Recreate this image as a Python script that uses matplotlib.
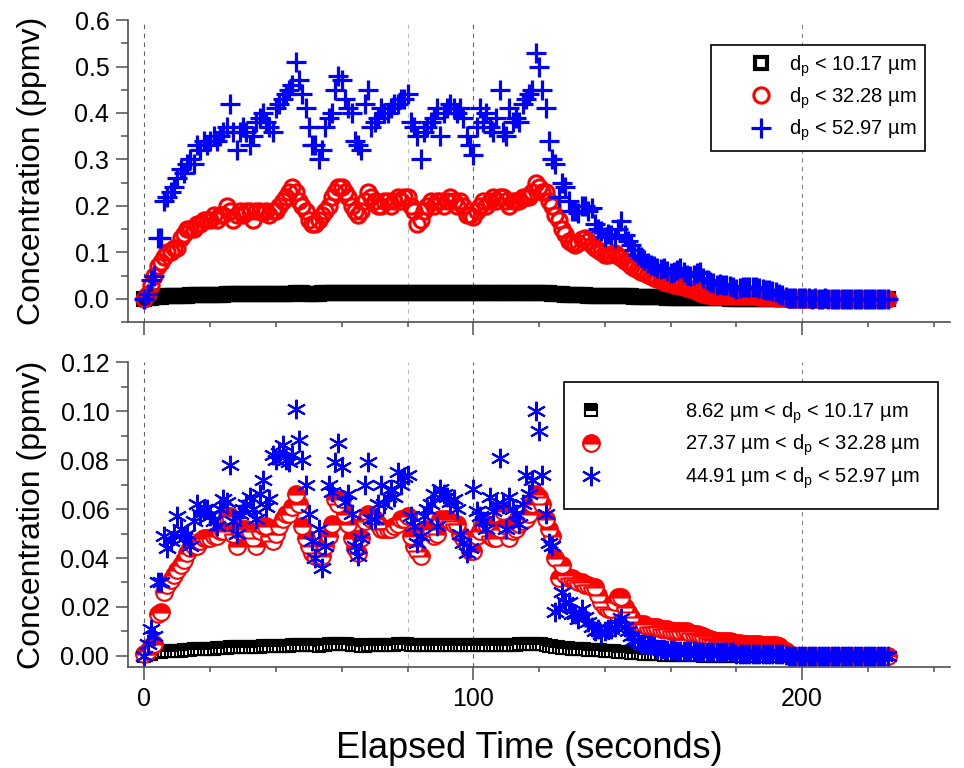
import numpy as np
import matplotlib.pyplot as plt
from matplotlib.ticker import MultipleLocator

plt.rcParams['font.family'] = ['Liberation Sans', 'DejaVu Sans']
plt.rcParams['mathtext.fontset'] = 'custom'
plt.rcParams['mathtext.rm'] = 'Liberation Sans'

# elapsed time, one sample per second
time_s = np.arange(0, 227)

# top panel: cumulative concentration (ppmv)
top_lt10 = [
    0.000, 0.001, 0.002, 0.003, 0.004, 0.004, 0.005, 0.005, 0.006, 0.006,
    0.006, 0.007, 0.007, 0.007, 0.008, 0.008, 0.008, 0.008, 0.008, 0.008,
    0.008, 0.009, 0.009, 0.009, 0.009, 0.010, 0.010, 0.010, 0.010, 0.010,
    0.010, 0.010, 0.010, 0.011, 0.011, 0.011, 0.011, 0.011, 0.011, 0.011,
    0.011, 0.011, 0.011, 0.011, 0.011, 0.011, 0.012, 0.012, 0.012, 0.011,
    0.011, 0.011, 0.011, 0.011, 0.012, 0.012, 0.012, 0.013, 0.013, 0.013,
    0.013, 0.013, 0.013, 0.013, 0.012, 0.012, 0.012, 0.012, 0.012, 0.012,
    0.012, 0.012, 0.012, 0.012, 0.012, 0.012, 0.012, 0.012, 0.013, 0.013,
    0.013, 0.012, 0.012, 0.012, 0.012, 0.012, 0.012, 0.012, 0.012, 0.012,
    0.012, 0.012, 0.012, 0.012, 0.012, 0.012, 0.012, 0.012, 0.012, 0.012,
    0.012, 0.012, 0.012, 0.012, 0.012, 0.012, 0.012, 0.012, 0.012, 0.012,
    0.012, 0.012, 0.012, 0.012, 0.013, 0.013, 0.013, 0.013, 0.013, 0.013,
    0.013, 0.013, 0.012, 0.012, 0.011, 0.010, 0.010, 0.010, 0.009, 0.009,
    0.009, 0.008, 0.008, 0.008, 0.008, 0.007, 0.007, 0.007, 0.007, 0.006,
    0.006, 0.006, 0.006, 0.006, 0.005, 0.005, 0.005, 0.005, 0.005, 0.004,
    0.004, 0.004, 0.004, 0.004, 0.003, 0.003, 0.003, 0.003, 0.003, 0.002,
    0.002, 0.002, 0.002, 0.002, 0.002, 0.002, 0.001, 0.001, 0.001, 0.001,
    0.001, 0.001, 0.001, 0.001, 0.001, 0.001, 0.001, 0.001, 0.000, 0.000,
    0.000, 0.000, 0.000, 0.000, 0.000, 0.000, 0.000, 0.000, 0.000, 0.000,
    0.000, 0.000, 0.000, 0.000, 0.000, 0.000, 0.000, 0.000, 0.000, 0.000,
    0.000, 0.000, 0.000, 0.000, 0.000, 0.000, 0.000, 0.000, 0.000, 0.000,
    0.000, 0.000, 0.000, 0.000, 0.000, 0.000, 0.000, 0.000, 0.000, 0.000,
    0.000, 0.000, 0.000, 0.000, 0.000, 0.000, 0.000,
]
top_lt32 = [
    0.00, 0.01, 0.03, 0.05, 0.07, 0.08, 0.09, 0.10, 0.10, 0.11,
    0.11, 0.13, 0.14, 0.15, 0.15, 0.15, 0.16, 0.16, 0.17, 0.17,
    0.17, 0.18, 0.17, 0.18, 0.18, 0.20, 0.19, 0.17, 0.18, 0.19,
    0.18, 0.19, 0.19, 0.17, 0.19, 0.19, 0.185, 0.19, 0.18, 0.19,
    0.19, 0.20, 0.21, 0.22, 0.23, 0.24, 0.23, 0.21, 0.20, 0.19,
    0.17, 0.16, 0.16, 0.17, 0.18, 0.19, 0.20, 0.22, 0.23, 0.24,
    0.24, 0.23, 0.22, 0.20, 0.19, 0.18, 0.19, 0.21, 0.23, 0.22,
    0.21, 0.20, 0.20, 0.21, 0.21, 0.20, 0.21, 0.22, 0.21, 0.22,
    0.22, 0.20, 0.19, 0.16, 0.17, 0.19, 0.20, 0.21, 0.20, 0.21,
    0.21, 0.20, 0.21, 0.22, 0.21, 0.20, 0.21, 0.20, 0.18, 0.18,
    0.175, 0.19, 0.20, 0.21, 0.20, 0.21, 0.22, 0.21, 0.22, 0.22,
    0.21, 0.20, 0.21, 0.21, 0.21, 0.22, 0.22, 0.22, 0.23, 0.25,
    0.24, 0.23, 0.23, 0.21, 0.20, 0.18, 0.17, 0.15, 0.14, 0.125,
    0.12, 0.115, 0.12, 0.128, 0.13, 0.125, 0.116, 0.11, 0.106, 0.10,
    0.095, 0.095, 0.097, 0.099, 0.092, 0.087, 0.082, 0.076, 0.071, 0.066,
    0.062, 0.058, 0.055, 0.051, 0.048, 0.044, 0.042, 0.040, 0.037, 0.035,
    0.033, 0.030, 0.029, 0.028, 0.026, 0.024, 0.022, 0.019, 0.016, 0.013,
    0.010, 0.009, 0.008, 0.007, 0.006, 0.006, 0.006, 0.005, 0.005, 0.005,
    0.005, 0.005, 0.005, 0.005, 0.005, 0.005, 0.005, 0.004, 0.004, 0.003,
    0.003, 0.003, 0.002, 0.002, 0.001, 0.001, 0.000, 0.000, 0.000, 0.000,
    0.000, 0.000, 0.000, 0.000, 0.000, 0.000, 0.000, 0.000, 0.000, 0.000,
    0.000, 0.000, 0.000, 0.000, 0.000, 0.000, 0.000, 0.000, 0.000, 0.000,
    0.000, 0.000, 0.000, 0.000, 0.000, 0.000, 0.000,
]
top_lt53 = [
    0.00, 0.01, 0.04, 0.05, 0.13, 0.13, 0.21, 0.22, 0.23, 0.24,
    0.26, 0.28, 0.27, 0.29, 0.30, 0.29, 0.33, 0.32, 0.34, 0.33,
    0.34, 0.35, 0.34, 0.35, 0.36, 0.37, 0.42, 0.36, 0.32, 0.36,
    0.37, 0.36, 0.33, 0.35, 0.38, 0.39, 0.40, 0.38, 0.37, 0.36,
    0.41, 0.42, 0.43, 0.44, 0.45, 0.46, 0.51, 0.47, 0.44, 0.41,
    0.37, 0.33, 0.33, 0.30, 0.32, 0.37, 0.39, 0.40, 0.45, 0.48,
    0.47, 0.43, 0.41, 0.40, 0.34, 0.33, 0.32, 0.42, 0.45, 0.37,
    0.38, 0.39, 0.41, 0.40, 0.40, 0.41, 0.42, 0.42, 0.43, 0.43,
    0.44, 0.38, 0.37, 0.35, 0.30, 0.36, 0.37, 0.38, 0.39, 0.41,
    0.35, 0.40, 0.41, 0.42, 0.41, 0.40, 0.41, 0.39, 0.35, 0.33,
    0.31, 0.37, 0.41, 0.38, 0.40, 0.37, 0.36, 0.39, 0.45, 0.36,
    0.35, 0.41, 0.38, 0.39, 0.38, 0.42, 0.43, 0.44, 0.45, 0.53,
    0.50, 0.45, 0.41, 0.34, 0.30, 0.29, 0.22, 0.25, 0.24, 0.21,
    0.19, 0.19, 0.185, 0.20, 0.20, 0.19, 0.195, 0.16, 0.15, 0.145,
    0.134, 0.14, 0.137, 0.13, 0.15, 0.167, 0.137, 0.125, 0.116, 0.105,
    0.095, 0.09, 0.084, 0.078, 0.073, 0.07, 0.066, 0.065, 0.066, 0.06,
    0.055, 0.058, 0.062, 0.066, 0.058, 0.051, 0.05, 0.052, 0.055, 0.058,
    0.044, 0.04, 0.036, 0.033, 0.03, 0.032, 0.03, 0.03, 0.028, 0.025,
    0.022, 0.024, 0.026, 0.026, 0.025, 0.026, 0.026, 0.023, 0.021, 0.02,
    0.019, 0.017, 0.015, 0.011, 0.008, 0.004, 0.002, 0.002, 0.001, 0.001,
    0.001, 0.001, 0.001, 0.000, 0.001, 0.000, 0.000, 0.001, 0.000, 0.000,
    0.000, 0.000, 0.000, 0.000, 0.000, 0.000, 0.000, 0.000, 0.000, 0.000,
    0.000, 0.000, 0.000, 0.000, 0.000, 0.000, 0.000,
]

# bottom panel: size-bin concentration (ppmv)
bin_10 = [
    0.000, 0.001, 0.001, 0.0015, 0.0015, 0.0015, 0.002, 0.002, 0.002, 0.002,
    0.002, 0.0022, 0.0024, 0.0025, 0.0026, 0.0027, 0.0028, 0.003, 0.003, 0.003,
    0.003, 0.003, 0.0031, 0.0032, 0.0033, 0.0034, 0.0035, 0.0035, 0.0035, 0.0035,
    0.0035, 0.0036, 0.0037, 0.0038, 0.0038, 0.0038, 0.0039, 0.004, 0.004, 0.004,
    0.004, 0.004, 0.004, 0.0041, 0.0042, 0.0043, 0.0044, 0.0045, 0.0045, 0.0045,
    0.0045, 0.0044, 0.0043, 0.0042, 0.0043, 0.0045, 0.0047, 0.0049, 0.005, 0.005,
    0.005, 0.0049, 0.0047, 0.0045, 0.0044, 0.0043, 0.0042, 0.0042, 0.0043, 0.0045,
    0.0046, 0.0046, 0.0045, 0.0044, 0.0044, 0.0045, 0.0046, 0.0047, 0.0048, 0.0048,
    0.0047, 0.0045, 0.0043, 0.0043, 0.0043, 0.0043, 0.0044, 0.0044, 0.0044, 0.0044,
    0.0044, 0.0044, 0.0044, 0.0044, 0.0044, 0.0044, 0.0044, 0.0044, 0.0044, 0.0044,
    0.0045, 0.0045, 0.0045, 0.0045, 0.0045, 0.0045, 0.0045, 0.0045, 0.0045, 0.0045,
    0.0045, 0.0045, 0.0045, 0.0046, 0.0047, 0.0048, 0.0049, 0.005, 0.005, 0.005,
    0.005, 0.0048, 0.0045, 0.0042, 0.004, 0.0038, 0.0036, 0.0034, 0.0033, 0.0032,
    0.003, 0.003, 0.0029, 0.0028, 0.0027, 0.0026, 0.0025, 0.0024, 0.0024, 0.0023,
    0.0022, 0.0021, 0.002, 0.0019, 0.0018, 0.0017, 0.0016, 0.0015, 0.0014, 0.0013,
    0.0012, 0.0011, 0.001, 0.001, 0.0009, 0.0008, 0.0008, 0.0007, 0.0006, 0.0006,
    0.0005, 0.0005, 0.0004, 0.0004, 0.0004, 0.0003, 0.0003, 0.0003, 0.0002, 0.0002,
    0.0, 0.0, 0.0, 0.0, 0.0, 0.0, 0.0, 0.0, 0.0, 0.0,
    0.0, 0.0, 0.0, 0.0, 0.0, 0.0, 0.0, 0.0, 0.0, 0.0,
    0.0, 0.0, 0.0, 0.0, 0.0, 0.0, 0.0, 0.0, 0.0, 0.0,
    0.0, 0.0, 0.0, 0.0, 0.0, 0.0, 0.0, 0.0, 0.0, 0.0,
    0.0, 0.0, 0.0, 0.0, 0.0, 0.0, 0.0, 0.0, 0.0, 0.0,
    0.0, 0.0, 0.0, 0.0, 0.0, 0.0, 0.0,
]
bin_32 = [
    0.001, 0.002, 0.004, 0.005, 0.017, 0.018, 0.026, 0.029, 0.031, 0.033,
    0.035, 0.037, 0.039, 0.042, 0.044, 0.045, 0.045, 0.047, 0.048, 0.048,
    0.048, 0.049, 0.049, 0.051, 0.051, 0.057, 0.057, 0.050, 0.045, 0.051,
    0.052, 0.052, 0.051, 0.048, 0.045, 0.051, 0.053, 0.053, 0.049, 0.047,
    0.050, 0.053, 0.056, 0.058, 0.058, 0.061, 0.066, 0.062, 0.053, 0.048,
    0.045, 0.042, 0.041, 0.041, 0.041, 0.045, 0.049, 0.054, 0.064, 0.062,
    0.064, 0.058, 0.054, 0.048, 0.044, 0.042, 0.048, 0.055, 0.058, 0.056,
    0.056, 0.054, 0.052, 0.052, 0.052, 0.052, 0.053, 0.054, 0.056, 0.056,
    0.057, 0.049, 0.045, 0.043, 0.041, 0.051, 0.052, 0.052, 0.049, 0.050,
    0.056, 0.056, 0.056, 0.055, 0.054, 0.054, 0.050, 0.048, 0.046, 0.043,
    0.043, 0.049, 0.051, 0.054, 0.054, 0.049, 0.048, 0.048, 0.052, 0.059,
    0.053, 0.048, 0.051, 0.052, 0.054, 0.055, 0.056, 0.058, 0.062, 0.066,
    0.065, 0.062, 0.056, 0.052, 0.049, 0.040, 0.032, 0.037, 0.033, 0.032,
    0.032, 0.031, 0.030, 0.030, 0.029, 0.029, 0.028, 0.028, 0.025, 0.022,
    0.020, 0.019, 0.019, 0.022, 0.024, 0.024, 0.020, 0.018, 0.016, 0.014,
    0.013, 0.013, 0.013, 0.012, 0.012, 0.012, 0.012, 0.011, 0.011, 0.011,
    0.010, 0.010, 0.010, 0.010, 0.010, 0.010, 0.0095, 0.009, 0.009, 0.0085,
    0.008, 0.0075, 0.007, 0.0065, 0.0063, 0.0061, 0.006, 0.006, 0.006, 0.0058,
    0.0055, 0.0052, 0.005, 0.005, 0.005, 0.005, 0.005, 0.005, 0.0045, 0.0045,
    0.0045, 0.0045, 0.0045, 0.004, 0.003, 0.002, 0.001, 0.0, 0.0, 0.0,
    0.0, 0.0, 0.0, 0.0, 0.0, 0.0, 0.0, 0.0, 0.0, 0.0,
    0.0, 0.0, 0.0, 0.0, 0.0, 0.0, 0.0, 0.0, 0.0, 0.0,
    0.0, 0.0, 0.0, 0.0, 0.0, 0.0, 0.0,
]
bin_53 = [
    0.000, 0.005, 0.011, 0.008, 0.030, 0.030, 0.049, 0.044, 0.047, 0.050,
    0.057, 0.052, 0.048, 0.050, 0.045, 0.055, 0.062, 0.058, 0.060, 0.060,
    0.057, 0.055, 0.053, 0.060, 0.064, 0.063, 0.078, 0.055, 0.050, 0.058,
    0.060, 0.062, 0.065, 0.060, 0.056, 0.066, 0.072, 0.061, 0.064, 0.082,
    0.080, 0.083, 0.086, 0.080, 0.079, 0.082, 0.101, 0.088, 0.080, 0.070,
    0.058, 0.047, 0.040, 0.052, 0.036, 0.045, 0.070, 0.067, 0.079, 0.087,
    0.077, 0.063, 0.066, 0.058, 0.045, 0.041, 0.048, 0.070, 0.079, 0.056,
    0.056, 0.062, 0.070, 0.062, 0.065, 0.068, 0.065, 0.075, 0.070, 0.073,
    0.074, 0.057, 0.053, 0.046, 0.049, 0.057, 0.060, 0.062, 0.066, 0.053,
    0.068, 0.066, 0.065, 0.063, 0.064, 0.060, 0.050, 0.046, 0.042, 0.044,
    0.068, 0.059, 0.057, 0.055, 0.052, 0.065, 0.059, 0.062, 0.081, 0.062,
    0.052, 0.065, 0.060, 0.058, 0.054, 0.062, 0.074, 0.066, 0.072, 0.100,
    0.092, 0.074, 0.058, 0.046, 0.045, 0.018, 0.019, 0.026, 0.022, 0.022,
    0.017, 0.017, 0.015, 0.019, 0.016, 0.014, 0.012, 0.010, 0.011, 0.009,
    0.010, 0.011, 0.011, 0.012, 0.013, 0.0155, 0.012, 0.010, 0.008, 0.0065,
    0.006, 0.005, 0.005, 0.0045, 0.0045, 0.004, 0.003, 0.003, 0.003, 0.0025,
    0.0024, 0.0024, 0.002, 0.002, 0.002, 0.002, 0.002, 0.002, 0.0015, 0.0015,
    0.0015, 0.0015, 0.0015, 0.0015, 0.0015, 0.0015, 0.0015, 0.0015, 0.0015, 0.0015,
    0.001, 0.001, 0.001, 0.001, 0.001, 0.001, 0.001, 0.001, 0.001, 0.001,
    0.001, 0.001, 0.001, 0.001, 0.001, 0.0005, 0.0, 0.0, 0.0, 0.0,
    0.0, 0.0, 0.0, 0.0, 0.0, 0.0, 0.0, 0.0, 0.0, 0.0,
    0.0, 0.0, 0.0, 0.0, 0.0, 0.0, 0.0, 0.0, 0.0, 0.0,
    0.0, 0.0, 0.0, 0.0, 0.0, 0.0, 0.0,
]

top_labels = [r'd$_\mathregular{p}$ < 10.17 µm',
              r'd$_\mathregular{p}$ < 32.28 µm',
              r'd$_\mathregular{p}$ < 52.97 µm']
bottom_labels = [r'8.62 µm < d$_\mathregular{p}$ < 10.17 µm',
                 r'27.37 µm < d$_\mathregular{p}$ < 32.28 µm',
                 r'44.91 µm < d$_\mathregular{p}$ < 52.97 µm']

fig = plt.figure(figsize=(9.64, 7.68), dpi=100)
ax1 = fig.add_axes([0.1328, 0.5807, 0.8527, 0.3932])
ax2 = fig.add_axes([0.1328, 0.1315, 0.8527, 0.3971])

spine_col = '#505050'
for ax in (ax1, ax2):
    for s in ('top', 'right'):
        ax.spines[s].set_visible(False)
    for s in ('left', 'bottom'):
        ax.spines[s].set_color(spine_col)
        ax.spines[s].set_linewidth(1.2)
    ax.set_xlim(-5, 245)
    ax.xaxis.set_major_locator(MultipleLocator(100))
    ax.xaxis.set_minor_locator(MultipleLocator(20))
    ax.tick_params(axis='both', which='major', labelsize=18, color=spine_col, width=1.1)
    ax.tick_params(axis='x', which='major', length=9.5, pad=5)
    ax.tick_params(axis='x', which='minor', length=3.6, color=spine_col, width=1.1)
    ax.tick_params(axis='y', which='major', length=8.5, pad=5)
    ax.tick_params(axis='y', which='minor', length=5, color=spine_col, width=1.1)
    # reference lines
    for xv in (0, 100):
        ax.axvline(xv, color='#606060', ls=(0, (4, 4)), lw=0.8, zorder=0)
    ax.axvline(80, color='#bbbbbb', ls=(0, (4, 4)), lw=0.8, zorder=0)
    ax.axvline(200, color='#808080', ls=(0, (4, 4)), lw=0.8, zorder=0)

# top panel
ax1.plot(time_s, top_lt10, ls='none', marker='s', ms=8.5, mfc='none', mec='black', mew=3,
         label=top_labels[0], zorder=3)
ax1.plot(time_s, top_lt32, ls='none', marker='o', ms=11, mfc='none', mec='red', mew=2.2,
         label=top_labels[1], zorder=4)
ax1.plot(time_s, top_lt53, ls='none', marker='+', ms=14, mec='blue', mew=2.3,
         label=top_labels[2], zorder=5)
ax1.set_ylim(-0.05, 0.6)
ax1.yaxis.set_major_locator(MultipleLocator(0.1))
ax1.yaxis.set_minor_locator(MultipleLocator(0.05))
ax1.yaxis.set_major_formatter(plt.FormatStrFormatter('%.1f'))
ax1.tick_params(axis='x', which='both', labelbottom=False)
ax1.set_ylabel('Concentration (ppmv)', fontsize=23)
ax1.yaxis.set_label_coords(-0.098, 0.5)

leg1 = ax1.legend(loc='upper right', bbox_to_anchor=(935 / 964, 1 - 35 / 768),
                  bbox_transform=fig.transFigure, fontsize=14.5, frameon=True,
                  fancybox=False, edgecolor='black', framealpha=1,
                  handlelength=4.15, handletextpad=-0.68, labelspacing=0.33,
                  borderpad=0.4)
leg1.get_frame().set_linewidth(1.2)
leg1.set_zorder(10)

# bottom panel
ax2.plot(time_s, bin_10, ls='none', marker='s', ms=9, fillstyle='top', mfc='black',
         mfcalt='white', mec='black', mew=1.5, label=bottom_labels[0], zorder=3)
ax2.plot(time_s, bin_32, ls='none', marker='o', ms=12, fillstyle='top', mfc='red',
         mfcalt='white', mec='red', mew=1.5, label=bottom_labels[1], zorder=4)
ax2.plot(time_s, bin_53, ls='none', marker=(6, 2, 0), ms=14, mec='blue', mew=1.5,
         label=bottom_labels[2], zorder=5)
ax2.set_ylim(-0.0045, 0.12)
ax2.yaxis.set_major_locator(MultipleLocator(0.02))
ax2.yaxis.set_minor_locator(MultipleLocator(0.01))
ax2.yaxis.set_major_formatter(plt.FormatStrFormatter('%.2f'))
ax2.set_ylabel('Concentration (ppmv)', fontsize=23)
ax2.yaxis.set_label_coords(-0.098, 0.5)
ax2.set_xlabel('Elapsed Time (seconds)', fontsize=26, labelpad=14)
ax2.xaxis.label.set_x(0.488)

leg2 = ax2.legend(loc='upper right', bbox_to_anchor=(948 / 964, 1 - 372 / 768),
                  bbox_transform=fig.transFigure, fontsize=14.5, frameon=True,
                  fancybox=False, edgecolor='black', framealpha=1,
                  handlelength=0.9, handletextpad=4.2, labelspacing=0.36,
                  borderpad=0.9)
leg2.get_frame().set_linewidth(1.2)
leg2.set_zorder(10)

fig.savefig('out.png', dpi=100)
